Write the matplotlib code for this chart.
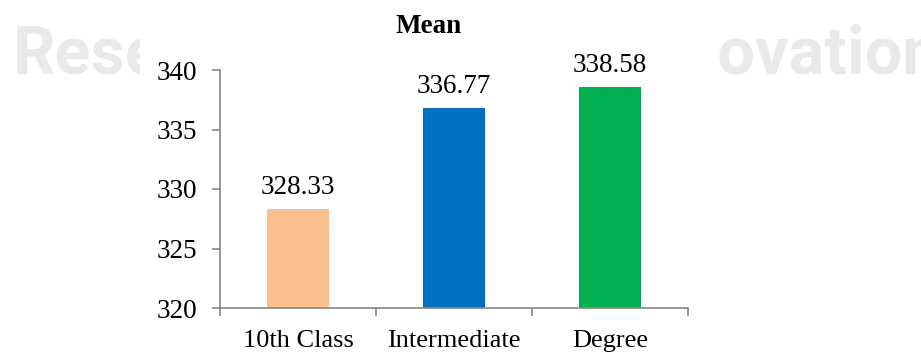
import matplotlib.pyplot as plt
from matplotlib.patches import Rectangle

categories = ["10th Class", "Intermediate", "Degree"]
means = [328.33, 336.77, 338.58]
colors = ["#FAC090", "#0070C0", "#00B050"]
yticks = [320, 325, 330, 335, 340]

plt.rcParams['font.family'] = ['Liberation Serif', 'DejaVu Serif']

fig = plt.figure(figsize=(9.21, 3.52), dpi=100)

# faint watermark behind the chart
wm = dict(fontsize=48, fontweight="bold", color="#E9E9E9", zorder=0,
          family=["Roboto", "DejaVu Sans"])
fig.text(13 / 921, 1 - 73 / 352, "Research", va="baseline", ha="left", **wm)
fig.text(940 / 921, 1 - 74 / 352, "Innovation", va="baseline", ha="right", **wm)
fig.patches.append(Rectangle((140 / 921, 0), (717 - 140) / 921, 1,
                             transform=fig.transFigure, facecolor="white",
                             edgecolor="none", zorder=1))

ax = fig.add_axes([220 / 921, 44 / 352, 468 / 921, 238 / 352])
ax.set_zorder(2)
ax.patch.set_alpha(0)

x = range(len(categories))
bars = ax.bar(x, [m - 320 for m in means], bottom=320, width=0.4, color=colors)
for xi, m in zip(x, means):
    ax.annotate(f"{m:.2f}", (xi, m), xytext=(0, 6.5), textcoords="offset points",
                ha="center", va="bottom", fontsize=19.5)

ax.set_xlim(-0.5, 2.5)
ax.set_ylim(320, 340)
ax.set_yticks(yticks)
ax.set_yticklabels([str(t) for t in yticks], fontsize=19.5)
ax.set_xticks(list(x))
ax.set_xticklabels(categories, fontsize=19)
ax.set_xticks([-0.5, 0.5, 1.5, 2.5], minor=True)
ax.tick_params(axis="x", which="major", length=0, pad=15.5)
ax.tick_params(axis="x", which="minor", length=5.5, color="#868686", width=1.2,
               direction="out")
ax.tick_params(axis="y", length=5.5, color="#868686", width=1.2, pad=11)

for s in ["top", "right"]:
    ax.spines[s].set_visible(False)
for s in ["left", "bottom"]:
    ax.spines[s].set_color("#868686")
    ax.spines[s].set_linewidth(1.2)

fig.text(428.5 / 921, 1 - 33 / 352, "Mean", fontsize=19.5, fontweight="bold",
         ha="center", va="baseline")

fig.savefig("out.png", dpi=100)
